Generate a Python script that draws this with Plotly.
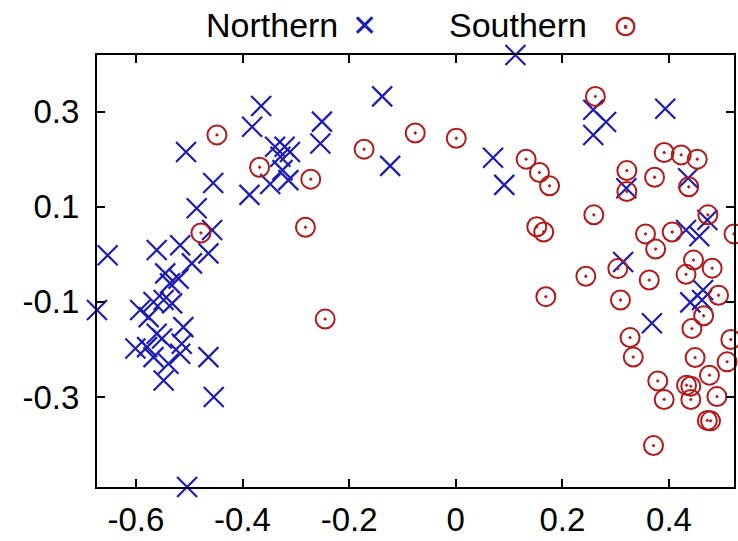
import plotly.graph_objects as go

north_x = [0.112, -0.504, -0.673, -0.653, -0.365, -0.382, -0.506, -0.455, -0.486, -0.387,
           -0.339, -0.321, -0.329, -0.311, -0.325, -0.314, -0.348, -0.251, -0.254, -0.138,
           -0.123, 0.070, 0.091, 0.258, 0.282, 0.258, 0.393, 0.436, 0.320, 0.432,
           0.457, 0.472, 0.314, 0.464, 0.440, 0.462, 0.368,
           -0.561, -0.517, -0.457, -0.464, -0.495, -0.545, -0.520, -0.536, -0.567, -0.548,
           -0.532, -0.592, -0.576, -0.511, -0.561, -0.551, -0.601, -0.579, -0.514, -0.567,
           -0.539, -0.517, -0.548, -0.464, -0.454]
north_y = [0.419, -0.489, -0.117, -0.002, 0.312, 0.268, 0.215, 0.150, 0.097, 0.125,
           0.226, 0.226, 0.205, 0.215, 0.177, 0.156, 0.148, 0.279, 0.233, 0.332,
           0.186, 0.203, 0.146, 0.304, 0.278, 0.251, 0.306, 0.160, 0.139, 0.051,
           0.038, 0.072, -0.016, -0.075, -0.101, -0.096, -0.145,
           0.009, 0.019, 0.051, 0.002, -0.019, -0.040, -0.051, -0.061, -0.100, -0.096,
           -0.103, -0.117, -0.132, -0.153, -0.167, -0.177, -0.198, -0.195, -0.188, -0.216,
           -0.230, -0.209, -0.265, -0.216, -0.300]

south_x = [-0.448, -0.368, -0.272, -0.478, -0.282, -0.245, -0.172, -0.076, 0.001, 0.132,
           0.157, 0.176, 0.152, 0.165, 0.169, 0.262, 0.321, 0.321, 0.373, 0.391,
           0.423, 0.453, 0.437, 0.259, 0.356, 0.406, 0.375, 0.473, 0.522, 0.446,
           0.481, 0.244, 0.304, 0.363, 0.432, 0.309, 0.493, 0.465, 0.443, 0.327,
           0.333, 0.516, 0.449, 0.509, 0.476, 0.379, 0.433, 0.441, 0.391, 0.441,
           0.490, 0.472, 0.478, 0.371]
south_y = [0.251, 0.183, 0.158, 0.045, 0.057, -0.136, 0.221, 0.255, 0.244, 0.200,
           0.172, 0.144, 0.058, 0.047, -0.089, 0.332, 0.176, 0.132, 0.162, 0.214,
           0.209, 0.200, 0.142, 0.083, 0.043, 0.047, 0.011, 0.083, 0.043, -0.012,
           -0.029, -0.046, -0.030, -0.054, -0.042, -0.096, -0.086, -0.129, -0.156, -0.175,
           -0.216, -0.179, -0.217, -0.226, -0.254, -0.266, -0.275, -0.277, -0.305, -0.305,
           -0.299, -0.349, -0.350, -0.402]

x_ticks = [-0.6, -0.4, -0.2, 0, 0.2, 0.4]
x_tick_text = ["-0.6", "-0.4", "-0.2", "0", "0.2", "0.4"]
y_ticks = [-0.3, -0.1, 0.1, 0.3]
y_tick_text = ["-0.3", "-0.1", "0.1", "0.3"]

blue = "#1c1cb8"
red = "#b41818"
font = "Liberation Sans, Arial, sans-serif"

fig = go.Figure()
fig.add_trace(go.Scatter(
    x=north_x, y=north_y, mode="markers", name="Northern",
    marker=dict(symbol="x-thin-open", size=20, color=blue,
                line=dict(width=2.2, color=blue)),
    cliponaxis=False, showlegend=False))
fig.add_trace(go.Scatter(
    x=south_x, y=south_y, mode="markers", name="Southern",
    marker=dict(symbol="circle-open-dot", size=19, color=red,
                line=dict(width=2, color=red)),
    cliponaxis=False, showlegend=False))

axis_common = dict(showline=True, linecolor="black", linewidth=2, mirror="ticks",
                   ticks="inside", ticklen=8, tickwidth=1.5, tickcolor="black",
                   showgrid=False, zeroline=False, automargin=False,
                   tickfont=dict(family=font, size=33, color="black"))

fig.update_xaxes(range=[-0.673, 0.522], tickvals=x_ticks, ticktext=x_tick_text,
                 ticklabelstandoff=2, **axis_common)
fig.update_yaxes(range=[-0.489, 0.419], tickvals=y_ticks, ticktext=y_tick_text,
                 ticklabelstandoff=9, **axis_common)

fig.add_annotation(xref="paper", yref="paper", x=0.382, y=1.069, xanchor="right",
                   yanchor="middle", text="Northern", showarrow=False,
                   font=dict(family=font, size=34, color="black"))
fig.add_annotation(xref="paper", yref="paper", x=0.42, y=1.069, xanchor="center",
                   yanchor="middle", text="✕", showarrow=False,
                   font=dict(family="DejaVu Sans", size=30, color=blue))
fig.add_annotation(xref="paper", yref="paper", x=0.773, y=1.069, xanchor="right",
                   yanchor="middle", text="Southern", showarrow=False,
                   font=dict(family=font, size=34, color="black"))
fig.add_annotation(xref="paper", yref="paper", x=0.829, y=1.069, xanchor="center",
                   yanchor="middle", text="⊙", showarrow=False,
                   font=dict(family="DejaVu Sans", size=30, color=red))

fig.update_layout(width=738, height=541, margin=dict(l=97, r=4, t=55, b=54),
                  plot_bgcolor="white", paper_bgcolor="white")

fig.write_html("out.html")
